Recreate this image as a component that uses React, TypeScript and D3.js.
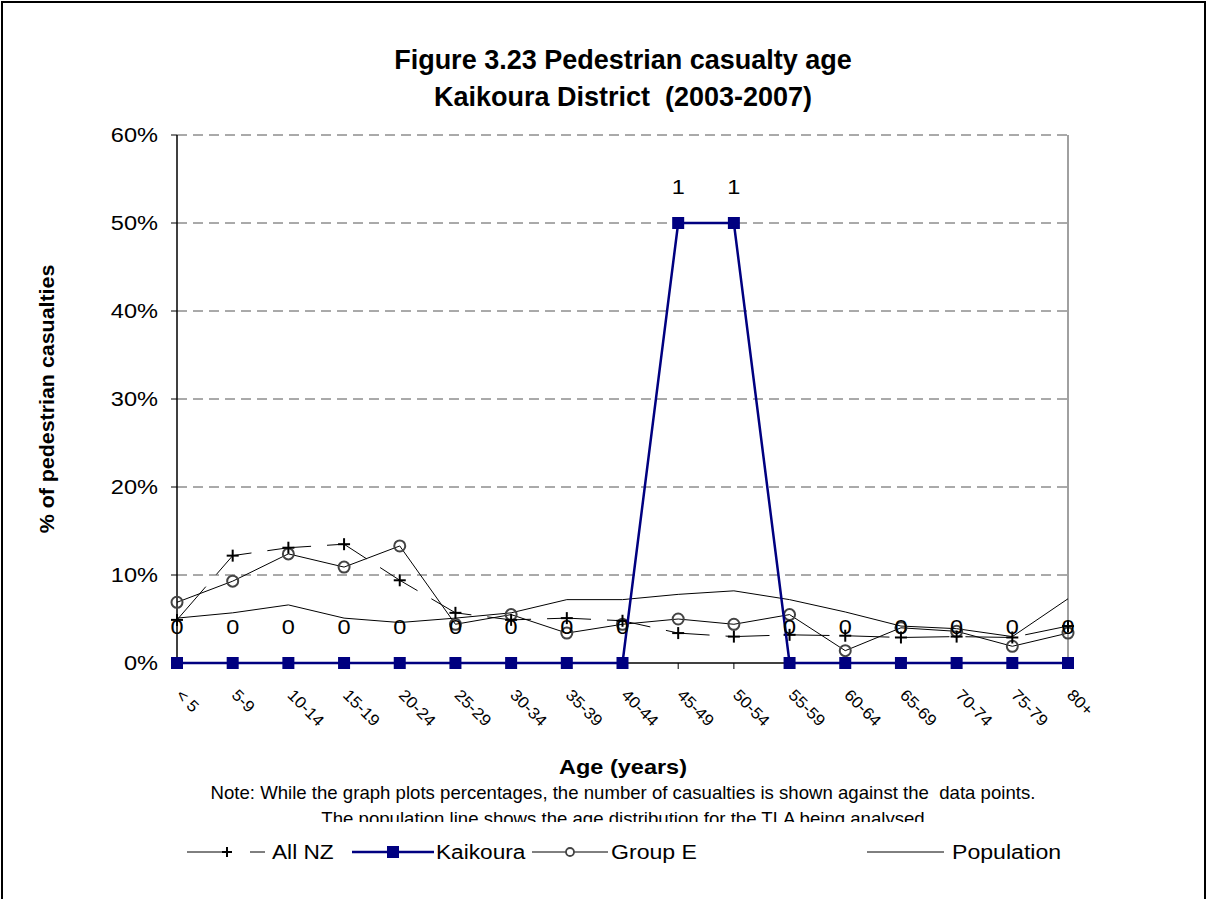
import React from "react";
import * as d3 from "d3";

const categories = ["< 5","5-9","10-14","15-19","20-24","25-29","30-34","35-39","40-44","45-49","50-54","55-59","60-64","65-69","70-74","75-79","80+"];
const allNZ = [4.9,12.2,13.1,13.5,9.4,5.7,4.9,5.1,4.8,3.4,3.0,3.2,3.1,2.9,3.0,2.9,4.2];
const kaikoura = [0,0,0,0,0,0,0,0,0,50,50,0,0,0,0,0,0];
const kaikouraCounts = [0,0,0,0,0,0,0,0,0,1,1,0,0,0,0,0,0];
const groupE = [6.9,9.3,12.4,10.9,13.3,4.4,5.5,3.4,4.4,5.0,4.4,5.5,1.4,4.0,3.6,1.9,3.4];
const population = [5.1,5.7,6.6,5.1,4.6,5.1,5.7,7.2,7.2,7.8,8.2,7.2,5.8,4.2,3.9,3.0,7.3];
const yTicks = [0,10,20,30,40,50,60];

const W = 1207, H = 899;
const L = 177, R = 1068, T = 135, B = 663;

type TP = { x: number; y: number; size: number; sx?: number; anchor?: string; weight?: string; rot?: number; children: React.ReactNode };
function Txt({ x, y, size, sx = 1, anchor = "start", weight = "normal", rot = 0, children }: TP) {
  return (
    <text
      transform={`translate(${x},${y}) rotate(${rot}) scale(${sx},1)`}
      fontSize={size}
      textAnchor={anchor}
      fontWeight={weight}
      style={{ whiteSpace: "pre" }}
    >
      {children}
    </text>
  );
}

export default function App() {
  const x = d3.scalePoint<string>().domain(categories).range([L, R]);
  const y = d3.scaleLinear().domain([0, 60]).range([B, T]);
  const line = (vals: number[]) =>
    d3.line<number>().x((_, i) => x(categories[i])!).y(v => y(v))(vals) || "";
  const font = "Arial, 'Liberation Sans', sans-serif";
  const NAVY = "#000080";
  const DASH = "44 16";
  return (
    <svg width={W} height={H} style={{ position: "absolute", left: 0, top: 0, background: "#fff" }} fontFamily={font}>
      <defs>
        <clipPath id="noteclip"><rect x={0} y={0} width={W} height={822} /></clipPath>
      </defs>
      <rect x={2} y={2} width={W - 4} height={H + 10} fill="#fff" stroke="#000" strokeWidth={2} />
      <Txt x={623} y={69} size={27} anchor="middle" weight="bold">Figure 3.23 Pedestrian casualty age</Txt>
      <Txt x={623} y={106} size={27} anchor="middle" weight="bold">{"Kaikoura District  (2003-2007)"}</Txt>

      {yTicks.filter(t => t > 0).map(t => (
        <line key={"g" + t} x1={L} x2={R} y1={y(t)} y2={y(t)} stroke="#555" strokeWidth={1} strokeDasharray="10 6" />
      ))}
      <line x1={R} x2={R} y1={T} y2={B} stroke="#808080" strokeWidth={1.5} />
      <line x1={L} x2={L} y1={T} y2={B} stroke="#000" strokeWidth={1.5} />
      <line x1={L} x2={R} y1={B} y2={B} stroke="#000" strokeWidth={1.5} />
      {yTicks.map(t => (
        <g key={"t" + t}>
          <line x1={L - 6} x2={L} y1={y(t)} y2={y(t)} stroke="#000" strokeWidth={1} />
          <Txt x={158} y={y(t) + 7} size={20.5} sx={1.15} anchor="end">{t + "%"}</Txt>
        </g>
      ))}
      {categories.map(c => (
        <g key={"x" + c}>
          <line x1={x(c)!} x2={x(c)!} y1={B} y2={B + 6} stroke="#000" strokeWidth={1} />
          <Txt x={x(c)! - 2} y={B + 33} size={16} sx={1.08} rot={45}>{c}</Txt>
        </g>
      ))}

      <Txt x={54} y={(T + B) / 2} size={20} sx={1.07} rot={-90} anchor="middle" weight="bold">% of pedestrian casualties</Txt>
      <Txt x={623} y={774} size={21} sx={1.12} anchor="middle" weight="bold">Age (years)</Txt>
      <g clipPath="url(#noteclip)">
        <Txt x={623} y={799} size={18.6} anchor="middle">{"Note: While the graph plots percentages, the number of casualties is shown against the  data points."}</Txt>
        <Txt x={623} y={825} size={18.6} anchor="middle">The population line shows the age distribution for the TLA being analysed</Txt>
      </g>

      {/* Population */}
      <path d={line(population)} fill="none" stroke="#000" strokeWidth={1} />
      {/* Group E */}
      <path d={line(groupE)} fill="none" stroke="#000" strokeWidth={1} />
      {groupE.map((v, i) => (
        <circle key={"ge" + i} cx={x(categories[i])!} cy={y(v)} r={5.5} fill="none" stroke="#444" strokeWidth={2} />
      ))}
      {/* All NZ */}
      <path d={line(allNZ)} fill="none" stroke="#000" strokeWidth={1} strokeDasharray={DASH} />
      {allNZ.map((v, i) => {
        const cx = x(categories[i])!, cy = y(v);
        return (
          <g key={"nz" + i} stroke="#000" strokeWidth={2}>
            <line x1={cx - 6} x2={cx + 6} y1={cy} y2={cy} />
            <line x1={cx} x2={cx} y1={cy - 6} y2={cy + 6} />
          </g>
        );
      })}
      {/* Kaikoura */}
      <path d={line(kaikoura)} fill="none" stroke={NAVY} strokeWidth={2.5} />
      {kaikoura.map((v, i) => (
        <rect key={"k" + i} x={x(categories[i])! - 6} y={y(v) - 6} width={12} height={12} fill={NAVY} />
      ))}
      {kaikouraCounts.map((c, i) => (
        <Txt key={"kl" + i} x={x(categories[i])!} y={y(kaikoura[i]) - 29} size={21} sx={1.12} anchor="middle">{String(c)}</Txt>
      ))}

      {/* Legend */}
      <g>
        <line x1={187} x2={265} y1={852} y2={852} stroke="#000" strokeWidth={1} strokeDasharray="45 18" />
        <line x1={222} x2={232} y1={852} y2={852} stroke="#000" strokeWidth={2} />
        <line x1={227} x2={227} y1={847} y2={857} stroke="#000" strokeWidth={2} />
        <Txt x={272} y={859} size={21} sx={1.08}>All NZ</Txt>
        <line x1={352} x2={434} y1={852} y2={852} stroke={NAVY} strokeWidth={2.5} />
        <rect x={387} y={846} width={12} height={12} fill={NAVY} />
        <Txt x={436} y={859} size={21} sx={1.08}>Kaikoura</Txt>
        <line x1={532} x2={608} y1={852} y2={852} stroke="#000" strokeWidth={1} />
        <circle cx={570} cy={852} r={4} fill="#fff" stroke="#444" strokeWidth={1.8} />
        <Txt x={611} y={859} size={21} sx={1.1}>Group E</Txt>
        <line x1={867} x2={944} y1={852} y2={852} stroke="#000" strokeWidth={1} />
        <Txt x={952} y={859} size={21} sx={1.1}>Population</Txt>
      </g>
    </svg>
  );
}
